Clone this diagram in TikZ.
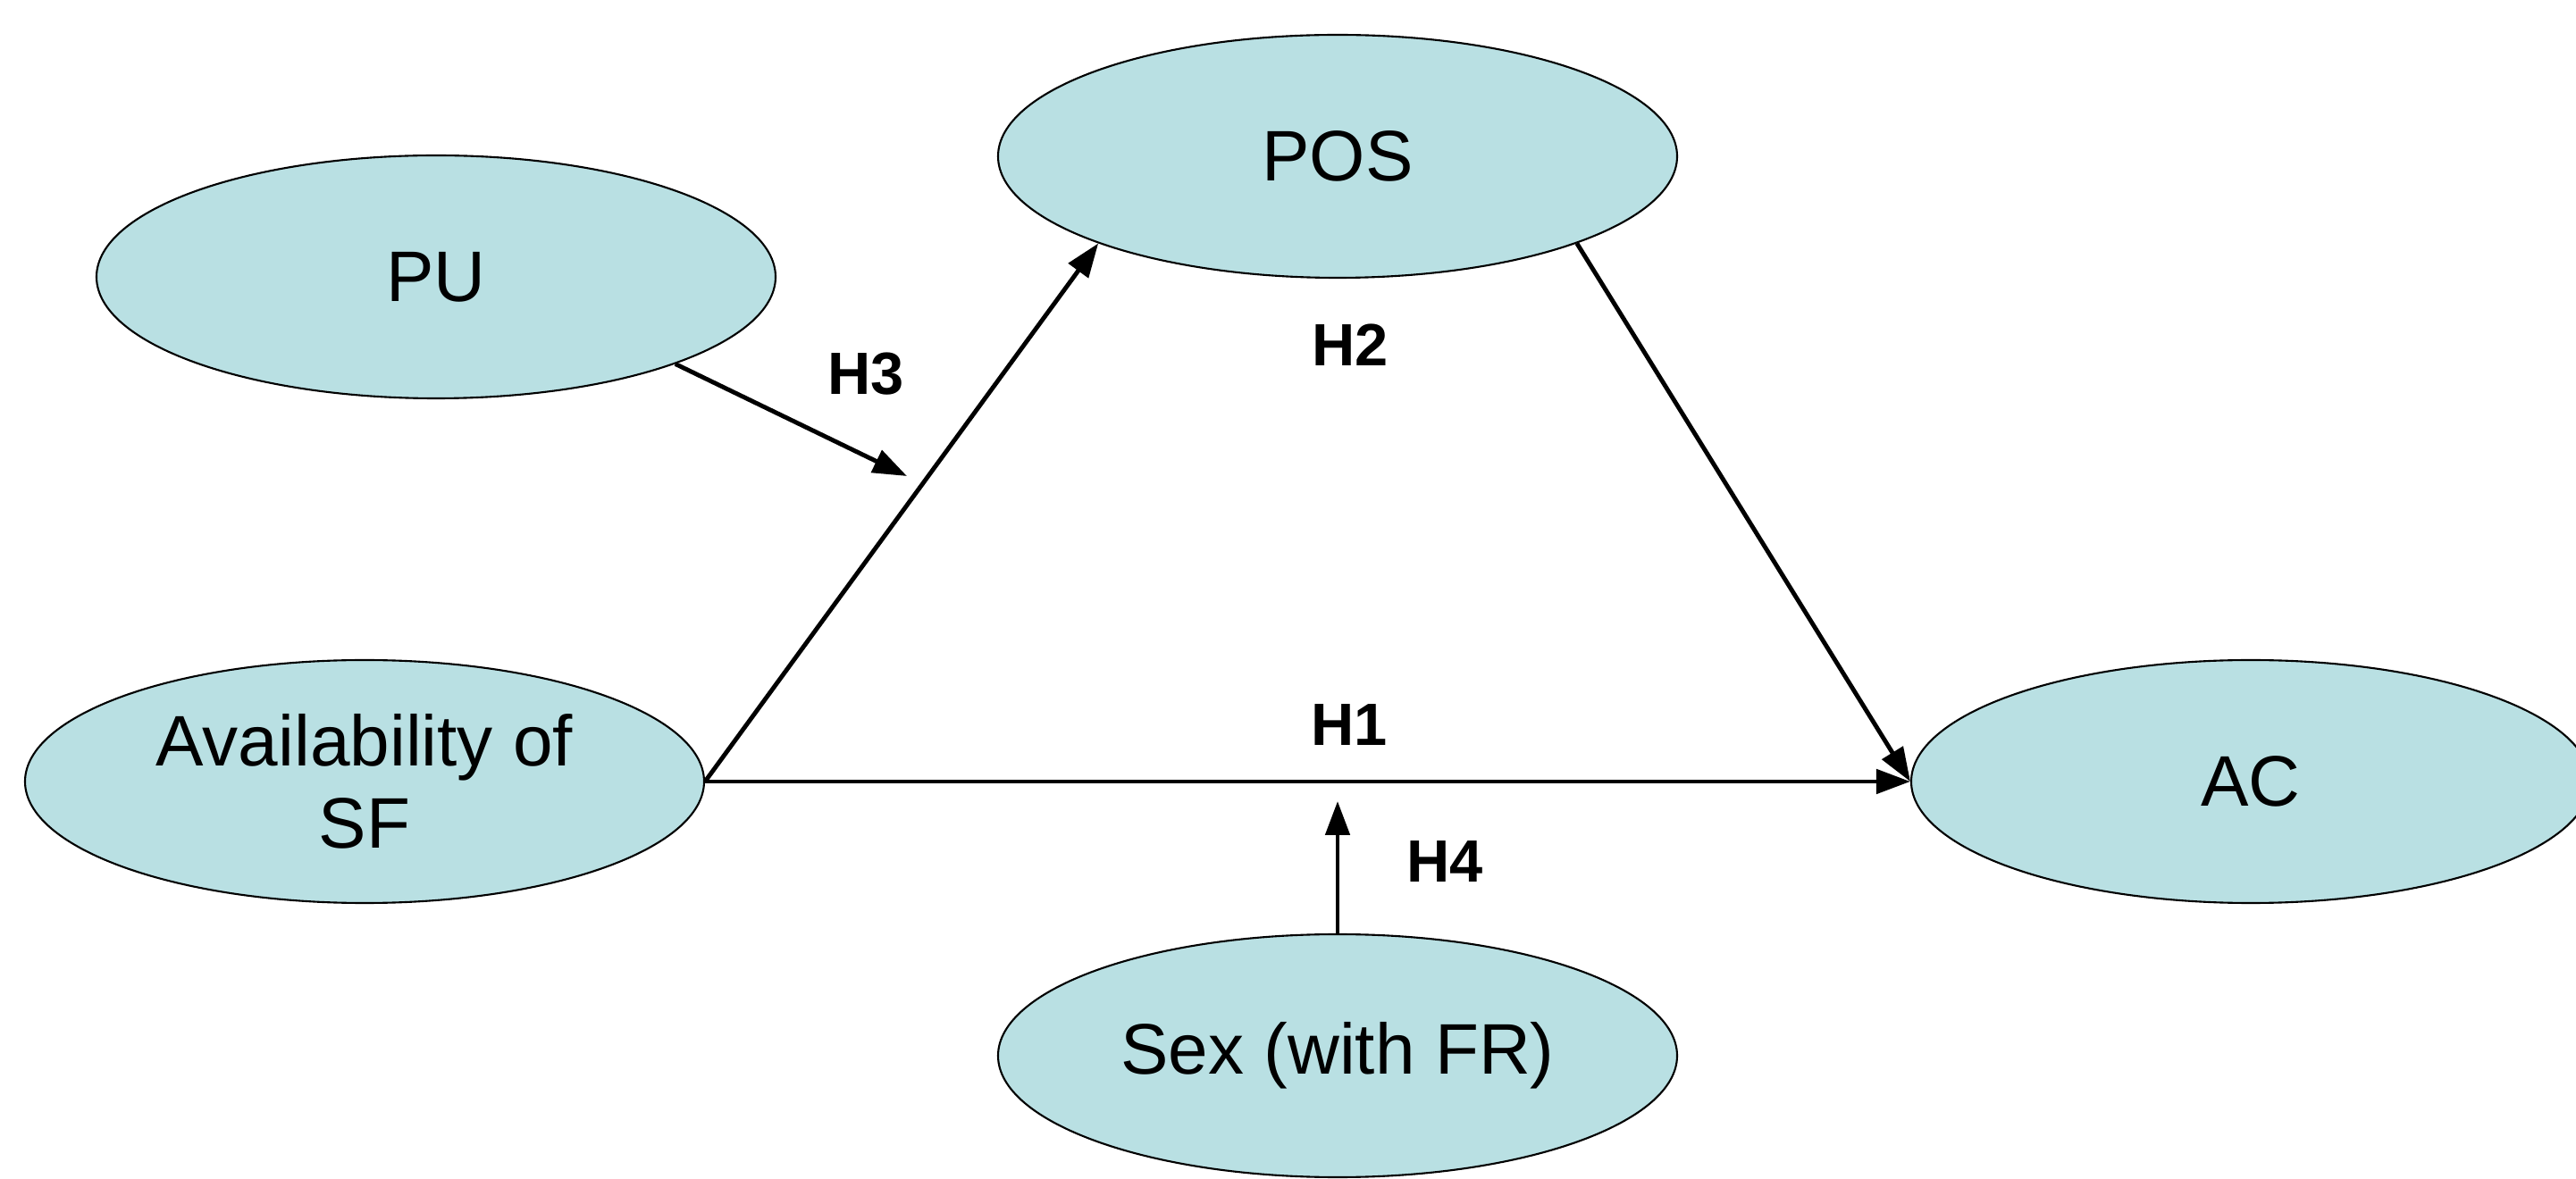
\documentclass[tikz,border=0pt]{standalone}
\usepackage{fontspec}
\setmainfont{Liberation Sans}
\usetikzlibrary{shapes.geometric,arrows.meta}
\definecolor{ovalfill}{RGB}{185,224,227}

\begin{document}
\begin{tikzpicture}[
        oval/.style={ellipse,draw,line width=0.6pt,fill=ovalfill,inner sep=0pt,
                minimum width=7.6cm,minimum height=2.72cm,align=center,
                font=\fontsize{22.8}{26}\selectfont},
        hyp/.style={font=\fontsize{19}{22}\selectfont\bfseries},
        link/.style={line width=1.4pt,-{Triangle[length=3.8mm,width=2.7mm]}}]
        
        \useasboundingbox (0,0) rectangle (28.83,-13.20);
        
        % constructs
        \node[oval] (pu) at (4.88,-3.10) {PU};
        \node[oval] (pos) at (14.97,-1.75) {POS};
        \node[oval] (sf) at (4.08,-8.75) {Availability of\\SF};
        \node[oval] (ac) at (25.19,-8.75) {AC};
        \node[oval] (sex) at (14.97,-11.82) {Sex (with FR)};
        
        % free ends of the moderating paths
        \coordinate (puEnd) at (10.15,-5.33);
        \coordinate (sexEnd) at (14.97,-8.97);
        
        \draw[link] (sf.east) -- (pos.200);
        \draw[link] (pos.-20) -- (ac.west);
        \draw[link] (sf.east) -- (ac.west);
        \draw[link] (pu.-20) -- (puEnd);
        \draw[link] (sex.north) -- (sexEnd);
        
        \node[hyp] (h1) at (15.10,-8.12) {H1};
        \node[hyp] (h2) at (15.11,-3.86) {H2};
        \node[hyp] (h3) at (9.69,-4.19) {H3};
        \node[hyp] (h4) at (16.17,-9.65) {H4};
        
        \end{tikzpicture}
\end{document}
